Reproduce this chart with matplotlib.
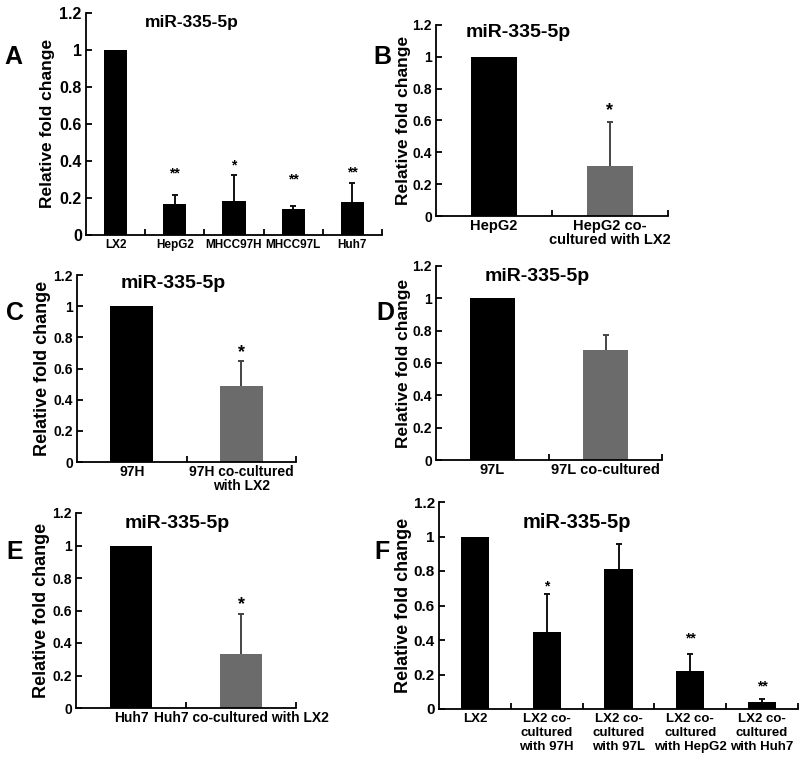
import matplotlib
matplotlib.use("Agg")
import matplotlib.pyplot as plt

plt.rcParams['font.family'] = ['Liberation Sans', 'DejaVu Sans']
plt.rcParams['font.weight'] = 'bold'

TITLE = "miR-335-5p"
YLABEL = "Relative fold change"
BLACK = "#000000"
GRAY = "#6b6b6b"

# Panel A
a_cats = ["LX2", "HepG2", "MHCC97H", "MHCC97L", "Huh7"]
a_vals = [1.0, 0.17, 0.185, 0.14, 0.18]
a_err = [0.0, 0.045, 0.14, 0.015, 0.10]
a_sig = ["", "**", "*", "**", "**"]
a_sig_y = [None, 0.33, 0.375, 0.30, 0.34]

# Panel B
b_cats = ["HepG2", "HepG2 co-\ncultured with LX2"]
b_vals = [1.0, 0.315]
b_err = [0.0, 0.275]
b_sig = ["", "*"]
b_sig_y = [None, 0.665]

# Panel C
c_cats = ["97H", "97H co-cultured\nwith LX2"]
c_vals = [1.0, 0.49]
c_err = [0.0, 0.155]
c_sig = ["", "*"]
c_sig_y = [None, 0.70]

# Panel D
d_cats = ["97L", "97L co-cultured"]
d_vals = [1.0, 0.683]
d_err = [0.0, 0.09]
d_sig = ["", ""]
d_sig_y = [None, None]

# Panel E
e_cats = ["Huh7", "Huh7 co-cultured with LX2"]
e_vals = [1.0, 0.333]
e_err = [0.0, 0.245]
e_sig = ["", "*"]
e_sig_y = [None, 0.634]

# Panel F
f_cats = ["LX2", "LX2 co-\ncultured\nwith 97H", "LX2 co-\ncultured\nwith 97L",
          "LX2 co-\ncultured\nwith HepG2", "LX2 co-\ncultured\nwith Huh7"]
f_vals = [1.0, 0.445, 0.81, 0.222, 0.042]
f_err = [0.0, 0.22, 0.144, 0.096, 0.018]
f_sig = ["", "*", "", "**", "**"]
f_sig_y = [None, 0.71, None, 0.41, 0.13]

yticks = [0, 0.2, 0.4, 0.6, 0.8, 1, 1.2]
yticklabels = ["0", "0.2", "0.4", "0.6", "0.8", "1", "1.2"]

fig = plt.figure(figsize=(8, 7.62), dpi=100)
W, H = 800, 762


def px_axes(x0, x1, ytop, ybot):
    return fig.add_axes([x0 / W, 1 - ybot / H, (x1 - x0) / W, (ybot - ytop) / H])


def panel(ax, cats, vals, errs, sigs, sig_y, colors, fs_tick, fs_ytick, fs_ylab, fs_title,
          title_xy, sig_fs, ylab_pad, tick_pad=2, linespacing=1.05):
    n = len(cats)
    xs = [i + 0.5 for i in range(n)]
    ax.bar(xs, vals, width=0.39, color=colors, edgecolor='none', zorder=2)
    for x, v, e, c in zip(xs, vals, errs, colors):
        if e > 0:
            ec = '#111111' if c == BLACK else '#444444'
            ax.vlines(x, v, v + e, colors=ec, linewidth=1.4, zorder=3)
            ax.plot([x], [v + e], marker='_', ms=5, mew=1.4, color=ec, zorder=3)
    for x, s, sy in zip(xs, sigs, sig_y):
        if s:
            ax.text(x, sy, s, ha='center', va='center', fontsize=sig_fs, fontweight='bold')
    ax.set_xlim(0, n)
    ax.set_ylim(0, 1.2)
    ax.spines['top'].set_visible(False)
    ax.spines['right'].set_visible(False)
    for sp in ['left', 'bottom']:
        ax.spines[sp].set_linewidth(1.3)
    ax.set_yticks(yticks)
    ax.set_yticklabels(yticklabels, fontsize=fs_ytick, fontweight='bold')
    ax.tick_params(axis='y', direction='in', length=4, width=1.3, pad=3)
    ax.set_xticks(list(range(1, n + 1)))
    ax.set_xticklabels([])
    ax.tick_params(axis='x', which='major', direction='in', length=4, width=1.3)
    ax.set_xticks(xs, minor=True)
    ax.set_xticklabels(cats, minor=True, fontsize=fs_tick, fontweight='bold',
                       linespacing=linespacing)
    ax.tick_params(axis='x', which='minor', length=0, pad=tick_pad)
    ax.set_ylabel(YLABEL, fontsize=fs_ylab, fontweight='bold', labelpad=ylab_pad)
    ax.text(title_xy[0], title_xy[1], TITLE, transform=ax.transAxes, ha='center', va='center',
            fontsize=fs_title, fontweight='bold')


def letter(x, y, s):
    fig.text(x / W, 1 - y / H, s, ha='center', va='center', fontsize=18, fontweight='bold')


# A
axA = px_axes(86, 382, 12.7, 235)
panel(axA, a_cats, a_vals, a_err, a_sig, a_sig_y, [BLACK] * 5, 8.5, 11.5, 12.5, 12.5,
      ((192 - 86) / 296, (235 - 23) / 222.3), 10, 3, tick_pad=3)
# B
axB = px_axes(436, 668, 25, 216)
panel(axB, b_cats, b_vals, b_err, b_sig, b_sig_y, [BLACK, GRAY], 10.5, 10, 12.5, 14,
      ((518 - 436) / 232, (216 - 33) / 191), 13, 1)
# C
axC = px_axes(77, 296, 275, 462)
panel(axC, c_cats, c_vals, c_err, c_sig, c_sig_y, [BLACK, GRAY], 10, 10, 13, 14,
      ((173 - 77) / 219, (462 - 283) / 187), 13, 2)
# D
axD = px_axes(436, 662, 266, 460)
panel(axD, d_cats, d_vals, d_err, d_sig, d_sig_y, [BLACK, GRAY], 10.5, 10, 12.5, 14,
      ((537 - 436) / 226, (460 - 277) / 194), 13, 1)
# E
axE = px_axes(76, 296, 513, 708)
panel(axE, e_cats, e_vals, e_err, e_sig, e_sig_y, [BLACK, GRAY], 10, 10, 13, 14,
      ((177 - 76) / 220, (708 - 523) / 195), 13, 2)
# F
axF = px_axes(439, 798, 502, 709)
panel(axF, f_cats, f_vals, f_err, f_sig, f_sig_y, [BLACK] * 5, 9.5, 11, 13, 14.5,
      ((577 - 439) / 359, (709 - 522) / 207), 10, 1, tick_pad=3, linespacing=1.2)

letter(13, 57, "A")
letter(382, 57, "B")
letter(15, 313, "C")
letter(385, 313, "D")
letter(15, 552, "E")
letter(382, 552, "F")

fig.savefig("out.png", dpi=100)
